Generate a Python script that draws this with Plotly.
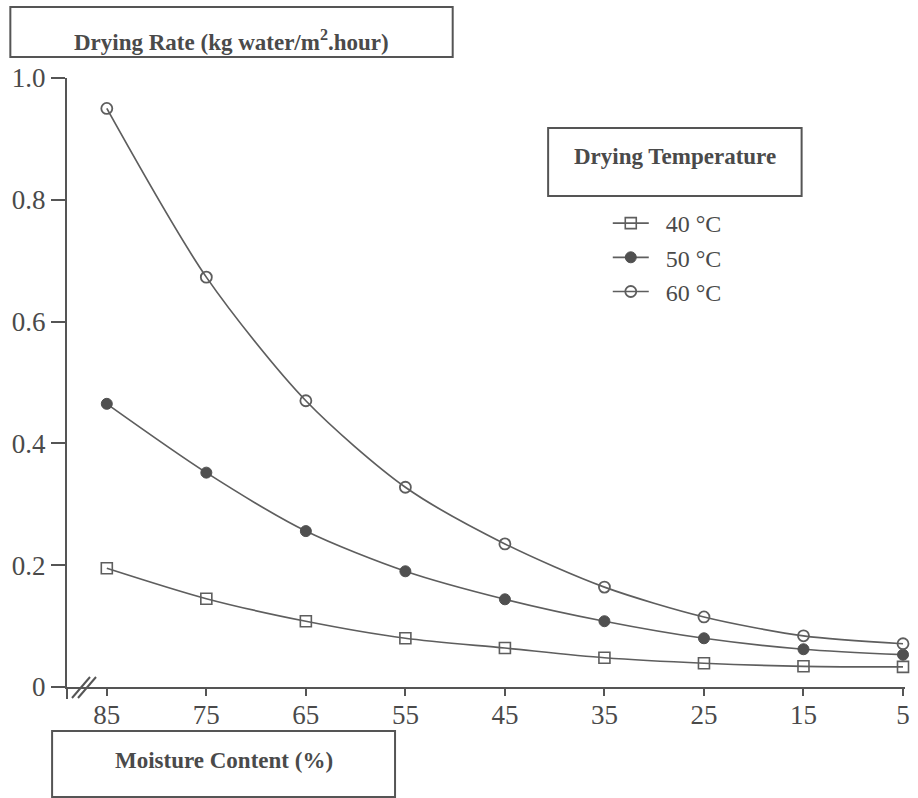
import plotly.graph_objects as go

# ---- data ----
moisture = [85, 75, 65, 55, 45, 35, 25, 15, 5]
rate_40 = [0.195, 0.145, 0.108, 0.080, 0.064, 0.048, 0.039, 0.034, 0.033]
rate_50 = [0.465, 0.352, 0.256, 0.190, 0.144, 0.108, 0.080, 0.062, 0.053]
rate_60 = [0.950, 0.673, 0.470, 0.328, 0.235, 0.164, 0.115, 0.084, 0.071]
series_names = ["40 °C", "50 °C", "60 °C"]
y_tickvals = [0, 0.2, 0.4, 0.6, 0.8, 1.0]
y_ticktext = ["0", "0.2", "0.4", "0.6", "0.8", "1.0"]
x_tickvals = [85, 75, 65, 55, 45, 35, 25, 15, 5]

FONT = "Liberation Serif, Times New Roman, serif"
TXT = "#4a4a4a"
LINE = "#5e5e5e"

W, H = 918, 798
ML, MR, MT, MB = 67, 8, 78, 111
PW = W - ML - MR
PH = H - MT - MB

def px(x):
    return (x - ML) / PW

def py(y):
    return (H - MB - y) / PH

fig = go.Figure()

styles = [
    dict(symbol="square-open", size=11, color=LINE, line=dict(width=1.6, color=LINE)),
    dict(symbol="circle", size=11, color="#505050", line=dict(width=1, color="#505050")),
    dict(symbol="circle-open", size=11, color=LINE, line=dict(width=1.8, color=LINE)),
]
for name, vals, mk in zip(series_names, [rate_40, rate_50, rate_60], styles):
    fig.add_trace(go.Scatter(
        x=moisture, y=vals, name="\u00a0\u00a0" + name, mode="lines+markers",
        line=dict(color=LINE, width=1.7, shape="spline", smoothing=0.8),
        marker=mk, cliponaxis=False,
    ))

fig.update_layout(
    width=W, height=H,
    margin=dict(l=ML, r=MR, t=MT, b=MB, pad=0),
    paper_bgcolor="white", plot_bgcolor="white",
    font=dict(family=FONT, color=TXT),
    showlegend=True,
    legend=dict(
        x=px(611), y=py(201), xanchor="left", yanchor="top",
        font=dict(family=FONT, size=24, color=TXT),
        bgcolor="rgba(0,0,0,0)", itemwidth=36, tracegroupgap=0,
    ),
    xaxis=dict(
        range=[89, 4.8], tickvals=x_tickvals, ticks="outside", ticklen=7,
        tickwidth=2, tickcolor="#555", showline=True, linecolor="#555", linewidth=2,
        showgrid=False, zeroline=False, ticklabelstandoff=-4,
        tickfont=dict(family=FONT, size=27, color=TXT),
    ),
    yaxis=dict(
        range=[0, 1.0], tickvals=y_tickvals, ticktext=y_ticktext, ticks="outside",
        ticklen=14, tickwidth=2, tickcolor="#555", showline=True, linecolor="#555",
        linewidth=2, showgrid=False, zeroline=False,
        tickfont=dict(family=FONT, size=27, color=TXT),
    ),
)

# boxes with titles
boxes = [
    (10, 7, 455, 57, "Drying Rate (kg water/m<sup>2</sup>.hour)", 40, 23),
    (52, 731, 397, 797, "Moisture Content (%)", 760, 23),
    (551, 128, 806, 196, "Drying Temperature", 157, 23),
]
for x0, y0, x1, y1, text, ty, fs in boxes:
    fig.add_shape(type="rect", xref="paper", yref="paper",
                  x0=px(x0), x1=px(x1), y0=py(y1), y1=py(y0),
                  line=dict(color="#555", width=2), fillcolor="rgba(0,0,0,0)")
    fig.add_annotation(xref="paper", yref="paper", x=px((x0 + x1) / 2), y=py(ty),
                       xanchor="center", yanchor="middle", showarrow=False,
                       text="<b>" + text + "</b>",
                       font=dict(family=FONT, size=fs, color=TXT))

# axis break marks "//" and y-axis extension below zero (paper-anchored, unclipped)
for dx in (5, 11):
    fig.add_shape(type="line", xref="paper", yref="paper", xsizemode="pixel", ysizemode="pixel",
                  xanchor=0, yanchor=0, x0=dx, x1=dx + 18, y0=-11, y1=10,
                  line=dict(color="#555", width=2))
fig.add_shape(type="line", xref="paper", yref="paper", xsizemode="pixel", ysizemode="pixel",
              xanchor=0, yanchor=0, x0=0, x1=0, y0=-12, y1=0,
              line=dict(color="#555", width=2))

fig.write_html("out.html", config={"displayModeBar": False},
               post_script="document.body.style.margin='0px';document.body.style.padding='0px';")
